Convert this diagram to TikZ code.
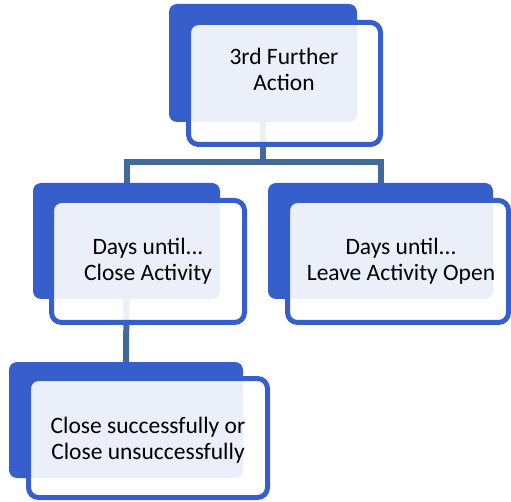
\documentclass[tikz,border=0pt]{standalone}
\usepackage{fontspec}
\setmainfont{Carlito}
\usetikzlibrary{backgrounds}
\definecolor{darkblue}{RGB}{54,95,204}
\definecolor{linkblue}{RGB}{65,105,155}
\begin{document}
\begin{tikzpicture}[x=1pt,y=-1pt,
  back/.style={fill=darkblue, draw=none, rounded corners=8pt, inner sep=0pt, minimum width=#1},
  frontbox/.style={fill=white, fill opacity=0.9, draw=darkblue, draw opacity=1, line width=5pt, rounded corners=10pt, inner sep=0pt, minimum width=#1},
  label/.style={font=\fontsize{23.5}{26}\selectfont, align=center, inner sep=0pt, text=black},
  link/.style={draw=linkblue, line width=6pt}]
\useasboundingbox (0,0) rectangle (511,502);
% top
\node[back=188pt, minimum height=118pt] (topdark) at (263,63) {};
\node[frontbox=192pt, minimum height=122pt] (topfront) at (284.5,83.5) {};
\node[label] (toptext) at (284,69) {3rd Further\\Action};
% middle left
\node[back=187pt, minimum height=116pt] (leftdark) at (126.5,241) {};
\node[frontbox=193pt, minimum height=122pt] (leftfront) at (148,261.5) {};
\node[label] (lefttext) at (148,261) {Days until...\\Close Activity};
% middle right
\node[back=225pt, minimum height=116pt] (rightdark) at (380.5,241) {};
\node[frontbox=221pt, minimum height=122pt] (rightfront) at (398,261.5) {};
\node[label] (righttext) at (401,261.5) {Days until...\\Leave Activity Open};
% bottom
\node[back=234pt, minimum height=116pt] (botdark) at (126,420) {};
\node[frontbox=239pt, minimum height=119pt] (botfront) at (148,438) {};
\node[label] (bottext) at (148,440) {Close successfully or\\Close unsuccessfully};
% connectors
\coordinate (bar) at (263,162);
\begin{scope}[on background layer]
\draw[link] (topdark.south) -- (bar) -| (leftdark.north);
\draw[link] (bar) -| (rightdark.north);
\draw[link] (leftdark.south) -- (botdark.north);
\end{scope}
\end{tikzpicture}
\end{document}
